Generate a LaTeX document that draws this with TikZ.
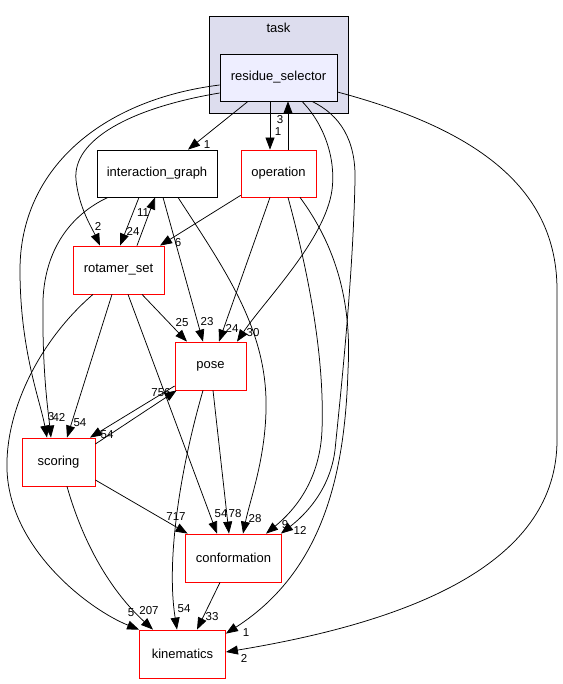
\documentclass[tikz,border=0pt]{standalone}
\usepackage{fontspec}
\setmainfont{Liberation Sans}
\usetikzlibrary{arrows.meta,calc}
\definecolor{clusterfill}{HTML}{DDDDEE}
\definecolor{selfill}{HTML}{EEEEFF}
\begin{document}
\begin{tikzpicture}[x=1pt,y=-1pt,
  dirbox/.style={draw=red, fill=white, line width=0.8pt, inner sep=0pt,
    minimum height=48pt, font=\fontsize{13}{15}\selectfont},
  plainbox/.style={dirbox, draw=black},
  dep/.style={draw=black, line width=0.75pt, -{Triangle[length=12pt,width=9pt]}},
  lbl/.style={inner sep=0pt, font=\fontsize{11.5}{13}\selectfont}]
\path[use as bounding box] (0,0) rectangle (562,684);
% cluster
\node[draw=black, fill=clusterfill, line width=0.8pt, minimum width=139pt, minimum height=97pt, inner sep=0pt] (task) at (278.5,64.5) {};
\node[font=\fontsize{13}{15}\selectfont] (tasklbl) at (278.5,28) {task};
% nodes
\node[plainbox, fill=selfill, minimum width=117pt, minimum height=47pt] (rs) at (278.5,77.5) {residue\_selector};
\node[plainbox, minimum width=120pt, minimum height=47pt] (ig) at (157,173.5) {interaction\_graph};
\node[dirbox, minimum width=75pt, minimum height=47pt] (op) at (278.5,173.5) {operation};
\node[dirbox, minimum width=91pt] (rot) at (118.5,270) {rotamer\_set};
\node[dirbox, minimum width=71pt] (pose) at (210.5,366) {pose};
\node[dirbox, minimum width=73pt] (sc) at (58.5,462) {scoring};
\node[dirbox, minimum width=96pt] (conf) at (233.5,558) {conformation};
\node[dirbox, minimum width=86pt] (kin) at (182.5,654) {kinematics};

% residue_selector edges
\draw[dep] ([xshift=-30.5pt]rs.south) -- ([xshift=31pt]ig.north);
\draw[dep] ([xshift=-8.5pt]rs.south) -- ([xshift=-8.5pt]op.north);
\draw[dep] ([xshift=9.5pt]op.north) -- ([xshift=9.5pt]rs.south);
\draw[dep] ([yshift=-15.5pt]rs.west) .. controls (130,108) and (72,140) .. (76,180)
   .. controls (79,208) and (92,228) .. ([xshift=-18.5pt]rot.north);
\draw[dep] ([yshift=-7.5pt]rs.west) .. controls (100,100) and (20,170) .. (20,270)
   .. controls (20,350) and (40,400) .. ([xshift=-11.5pt]sc.north);
\draw[dep] ([xshift=23.5pt]rs.south) .. controls (325,125) and (336,160) .. (332,190)
   .. controls (325,240) and (265,300) .. ([xshift=26.5pt]pose.north);
\draw[dep] ([xshift=33.5pt]rs.south) .. controls (340,115) and (356,140) .. (355,180)
   .. controls (353,280) and (340,400) .. (335,450)
   .. controls (330,490) and (305,515) .. ([xshift=-1pt]conf.north east);
\draw[dep] ([yshift=-14.5pt]rs.east) .. controls (480,130) and (557,190) .. (557,290)
   -- (557,440) .. controls (557,560) and (420,620) .. ([yshift=2pt]kin.east);

% interaction_graph edges
\draw[dep] ([xshift=-49pt]ig.south) .. controls (70,215) and (45,250) .. (43,300)
   .. controls (42,370) and (48,410) .. ([xshift=-7.5pt]sc.north);
\draw[dep] ([xshift=-18pt]ig.south) -- ([xshift=1.5pt]rot.north);
\draw[dep] ([xshift=18.5pt]rot.north) -- ([xshift=-2pt]ig.south);
\draw[dep] ([xshift=6pt]ig.south) -- ([xshift=-7.5pt]pose.north);
\draw[dep] ([xshift=21pt]ig.south) .. controls (225,270) and (268,330) .. (266,410)
   .. controls (265,460) and (250,500) .. ([xshift=9.5pt]conf.north);

% operation edges
\draw[dep] ([yshift=2pt]op.south west) -- ([xshift=41.5pt]rot.north);
\draw[dep] ([xshift=-8.5pt]op.south) -- ([xshift=8.5pt]pose.north);
\draw[dep] ([xshift=9.5pt]op.south) .. controls (305,260) and (325,350) .. (322,430)
   .. controls (320,480) and (295,510) .. ([xshift=32.5pt]conf.north);
\draw[dep] ([xshift=21.5pt]op.south) .. controls (335,245) and (352,300) .. (348,370)
   .. controls (345,470) and (325,570) .. ([yshift=-4pt]kin.north east);

% rotamer_set edges
\draw[dep] ([xshift=23.5pt]rot.south) -- ([xshift=-23.5pt]pose.north);
\draw[dep] ([xshift=-6.5pt]rot.south) -- ([xshift=8.5pt]sc.north);
\draw[dep] ([xshift=9.5pt]rot.south) -- ([xshift=-16.5pt]conf.north);
\draw[dep] ([xshift=-25.5pt]rot.south) .. controls (40,340) and (5,410) .. (7,470)
   .. controls (10,550) and (90,610) .. (kin.north west);

% pose edges
\draw[dep] ([yshift=-20pt]pose.west) -- ([xshift=31.5pt]sc.north);
\draw[dep] ([yshift=18pt]sc.east) -- ([xshift=2pt]pose.south west);
\draw[dep] ([xshift=2.5pt]pose.south) -- ([xshift=-4.5pt]conf.north);
\draw[dep] ([xshift=-7.5pt]pose.south) .. controls (180,470) and (166,560) .. ([xshift=-5.5pt]kin.north);

% scoring edges
\draw[dep] ([yshift=-18pt]sc.east) -- ([xshift=2.5pt]conf.north west);
\draw[dep] ([xshift=8.5pt]sc.south) .. controls (85,550) and (115,595) .. ([xshift=-29.5pt]kin.north);

% conformation edge
\draw[dep] ([xshift=-13.5pt]conf.south) -- ([xshift=14.5pt]kin.north);

% labels
\node[lbl] (t1) at (207,145) {1};
\node[lbl] (t2) at (278,132) {1};
\node[lbl] (t3) at (280,120) {3};
\node[lbl] (t4) at (98,226) {2};
\node[lbl] (t5) at (133,231) {24};
\node[lbl] (t6) at (143,213) {11};
\node[lbl] (t7) at (178,243) {6};
\node[lbl] (t8) at (182,323) {25};
\node[lbl] (t9) at (207,322) {23};
\node[lbl] (t10) at (232,328) {24};
\node[lbl] (t11) at (253,333) {30};
\node[lbl] (t12) at (161,393) {756};
\node[lbl] (t13) at (51,417) {3};
\node[lbl] (t14) at (59,417) {42};
\node[lbl] (t15) at (80,423) {54};
\node[lbl] (t16) at (107,435) {54};
\node[lbl] (t17) at (176,517) {717};
\node[lbl] (t18) at (221,514) {54};
\node[lbl] (t19) at (235,514) {78};
\node[lbl] (t20) at (255,519) {28};
\node[lbl] (t21) at (285,525) {9};
\node[lbl] (t22) at (300,530) {12};
\node[lbl] (t23) at (131,613) {5};
\node[lbl] (t24) at (149,611) {207};
\node[lbl] (t25) at (184,609) {54};
\node[lbl] (t26) at (212,617) {33};
\node[lbl] (t27) at (246,633) {1};
\node[lbl] (t28) at (244,658) {2};
\end{tikzpicture}
\end{document}
